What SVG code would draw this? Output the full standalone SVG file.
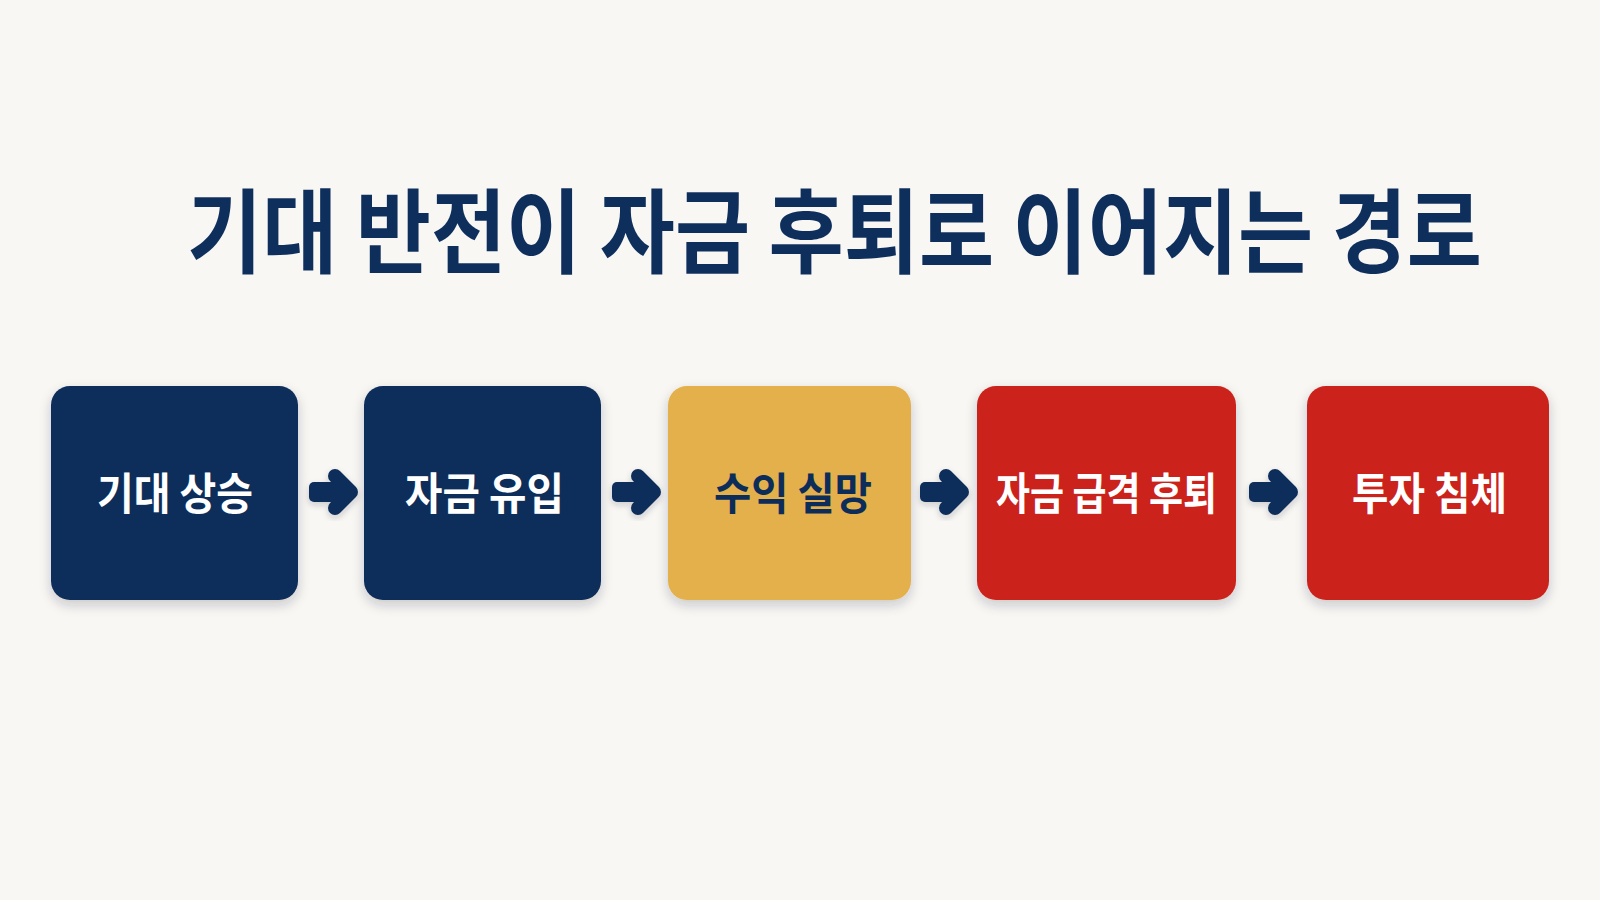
<svg xmlns="http://www.w3.org/2000/svg" width="1600" height="900" viewBox="0 0 1600 900">
  <defs>
    <filter id="shadow" x="-20%" y="-20%" width="140%" height="150%">
      <feDropShadow dx="0" dy="5" stdDeviation="6" flood-color="#1a2230" flood-opacity="0.22"/>
    </filter>
    <filter id="ashadow" x="-30%" y="-30%" width="160%" height="170%">
      <feDropShadow dx="0" dy="3" stdDeviation="3" flood-color="#1a2230" flood-opacity="0.2"/>
    </filter>
    <g id="arrow">
      <rect x="0" y="-10" width="38" height="20" rx="5"/>
      <polyline points="26,-16 42,0 26,16" fill="none" stroke="#0c2d5a" stroke-width="14" stroke-linecap="round" stroke-linejoin="round"/>
    </g>
  </defs>
  <style>
    .title { font-family: "Noto Sans CJK KR", "Noto Sans", sans-serif; font-weight: 700; font-size: 81px; fill: #0e2e5c; }
    .label { font-family: "Noto Sans CJK KR", "Noto Sans", sans-serif; font-weight: 700; font-size: 44px; }
    .box { filter: url(#shadow); }
    .navy { fill: #0c2d5a; }
    .gold { fill: #e3b04b; }
    .red { fill: #cb231f; }
    .wtext { fill: #ffffff; }
    .ntext { fill: #0c2d5a; }
    .conn { fill: #0c2d5a; filter: url(#ashadow); }
  </style>
  <rect width="1600" height="900" fill="#f8f7f4"/>

  <text class="title" transform="translate(187,266) scale(1,1.136)" x="0" y="0" textLength="1295" lengthAdjust="spacingAndGlyphs">기대 반전이 자금 후퇴로 이어지는 경로</text>

  <g id="node1">
    <rect class="box navy" x="51" y="386" width="247" height="214" rx="19"/>
    <text class="label wtext" x="97" y="510" textLength="156" lengthAdjust="spacingAndGlyphs">기대 상승</text>
  </g>
  <g id="node2">
    <rect class="box navy" x="364" y="386" width="237" height="214" rx="19"/>
    <text class="label wtext" x="405" y="510" textLength="159" lengthAdjust="spacingAndGlyphs">자금 유입</text>
  </g>
  <g id="node3">
    <rect class="box gold" x="668" y="386" width="243" height="214" rx="19"/>
    <text class="label ntext" x="714" y="510" textLength="158" lengthAdjust="spacingAndGlyphs">수익 실망</text>
  </g>
  <g id="node4">
    <rect class="box red" x="977" y="386" width="259" height="214" rx="19"/>
    <text class="label wtext" x="996" y="510" textLength="221" lengthAdjust="spacingAndGlyphs">자금 급격 후퇴</text>
  </g>
  <g id="node5">
    <rect class="box red" x="1307" y="386" width="242" height="214" rx="19"/>
    <text class="label wtext" x="1352" y="510" textLength="155" lengthAdjust="spacingAndGlyphs">투자 침체</text>
  </g>

  <g id="connectors" class="conn">
    <use href="#arrow" x="309" y="492"/>
    <use href="#arrow" x="612" y="492"/>
    <use href="#arrow" x="920" y="492"/>
    <use href="#arrow" x="1249" y="492"/>
  </g>
</svg>
